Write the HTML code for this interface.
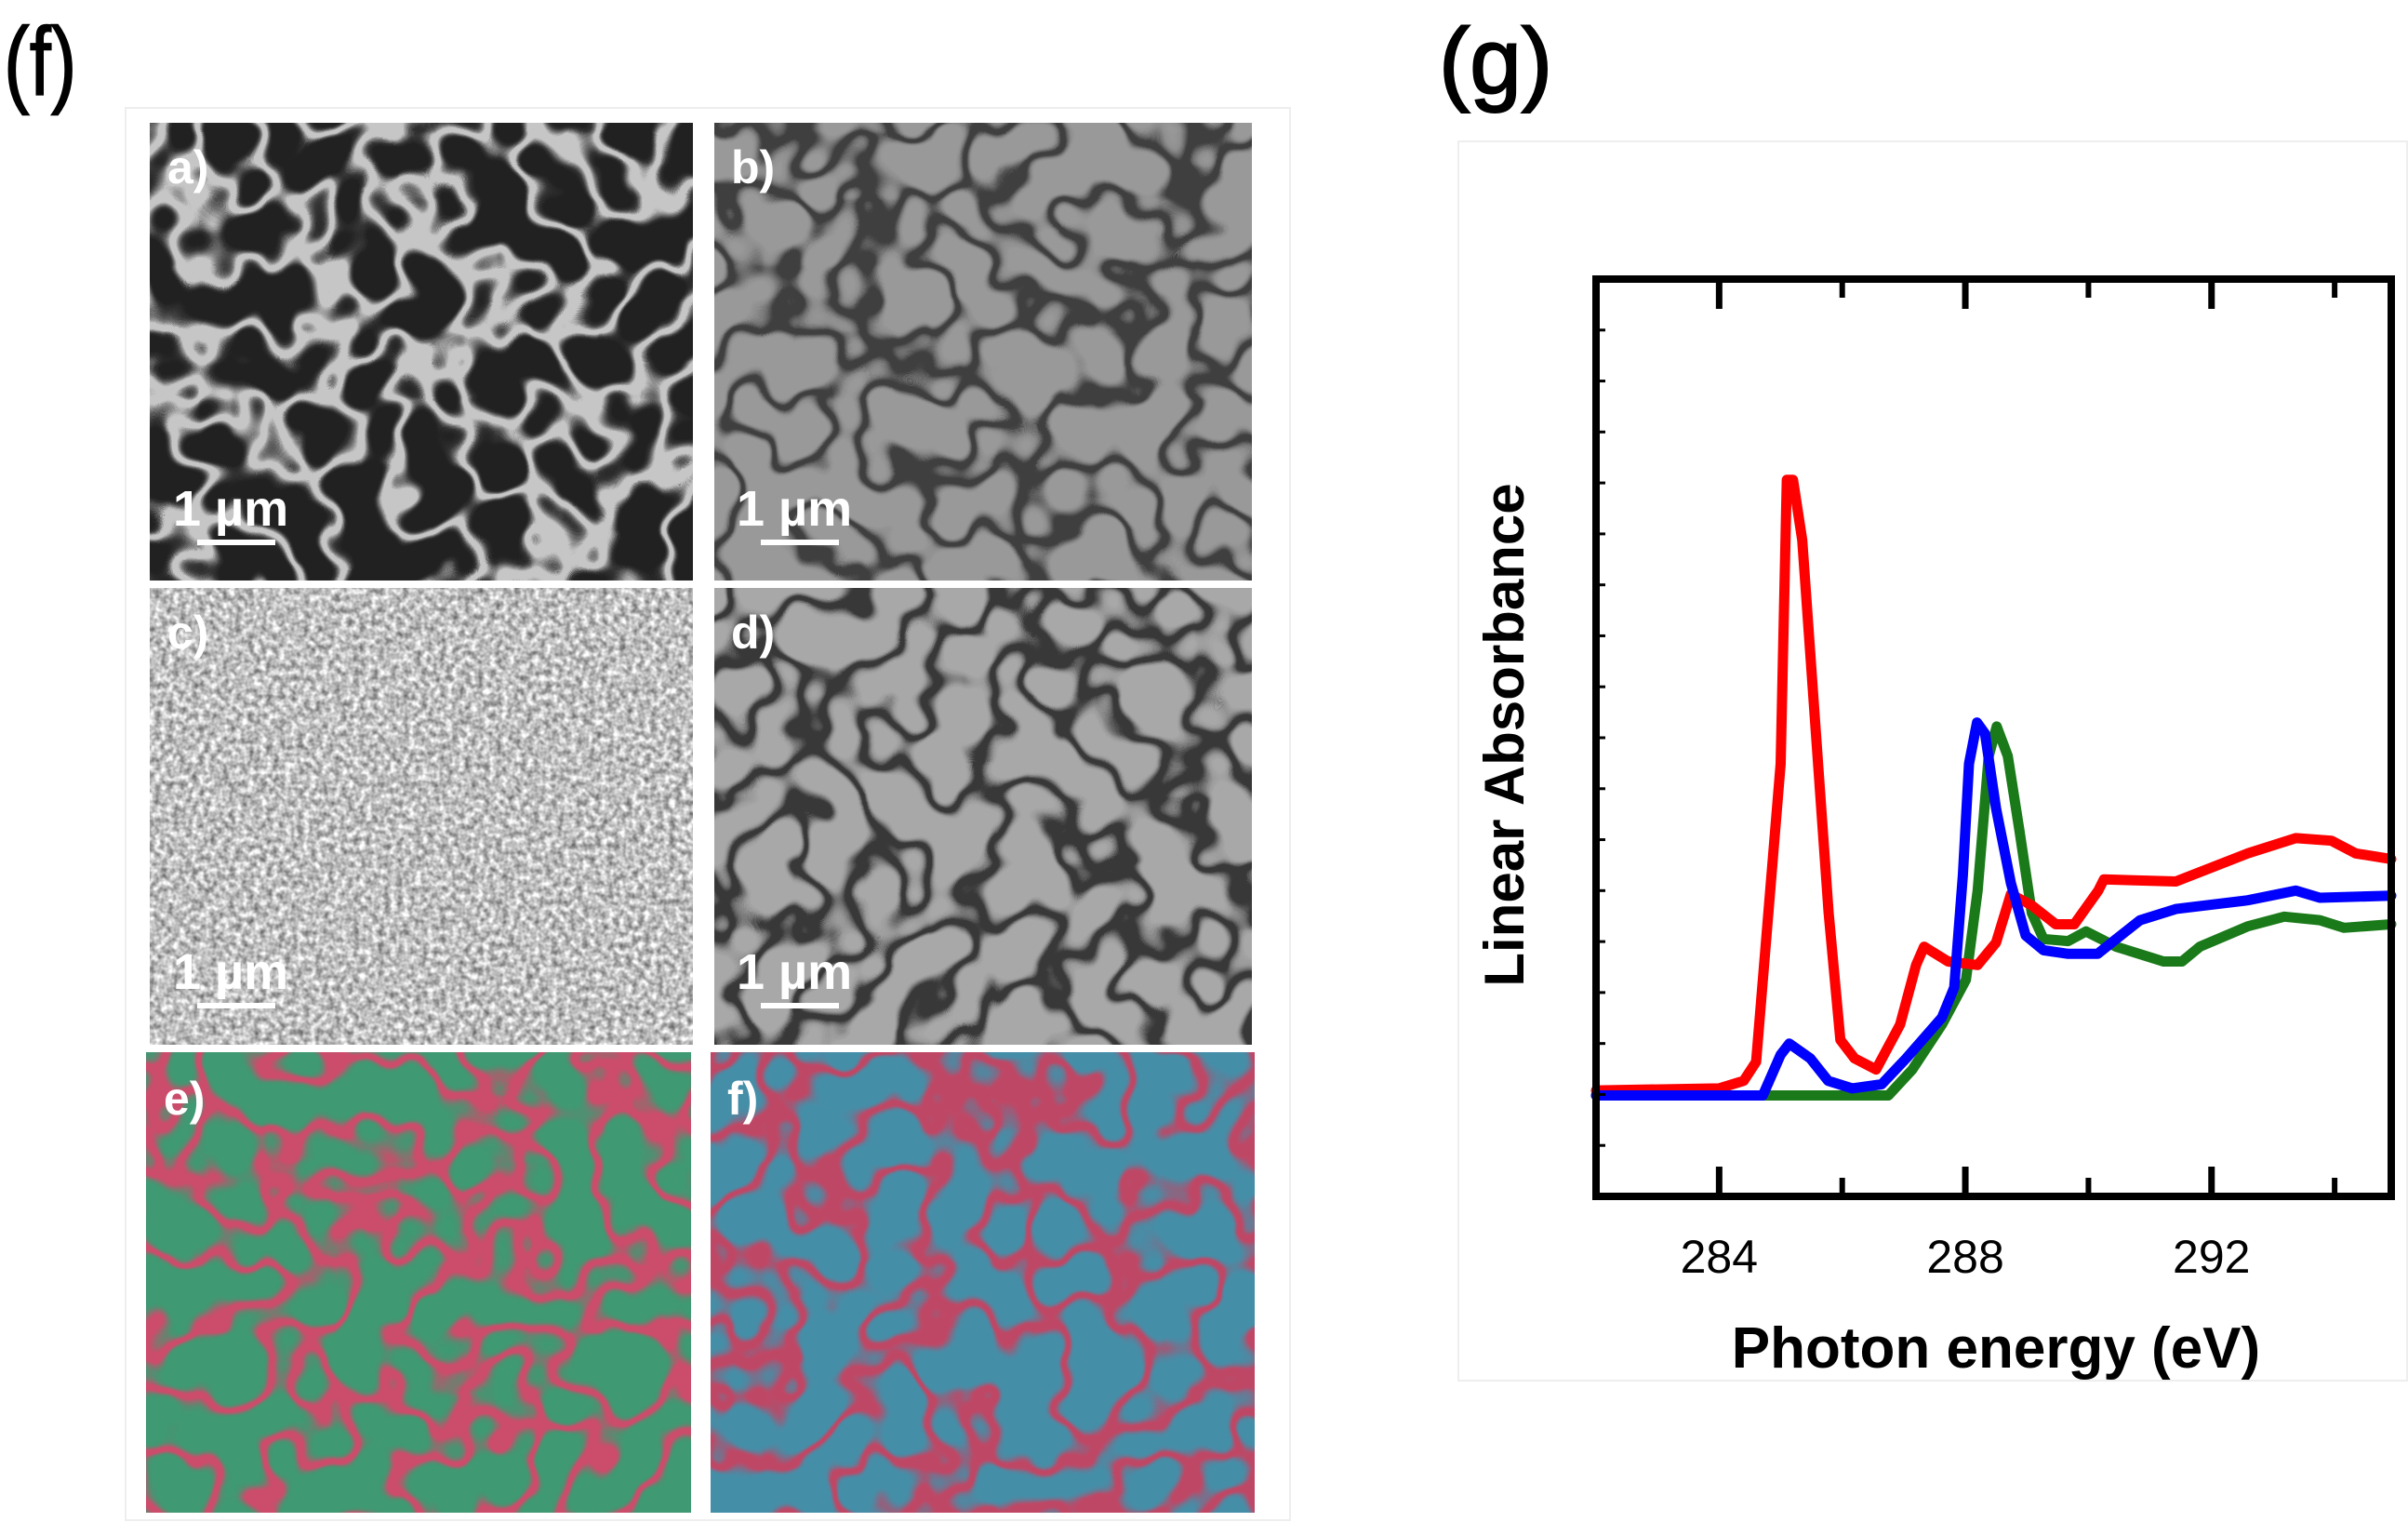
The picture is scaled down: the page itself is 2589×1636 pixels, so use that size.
<!DOCTYPE html>
<html><head><meta charset="utf-8"><style>
html,body{margin:0;padding:0;background:#fff;}
#root{position:relative;width:2589px;height:1636px;overflow:hidden;font-family:"Liberation Sans",sans-serif;}
</style></head><body>
<div id="root">
<svg id="fig" width="2589" height="1636" viewBox="0 0 2589 1636" xmlns="http://www.w3.org/2000/svg">
<defs>
  <filter id="fa" x="0" y="0" width="1" height="1" color-interpolation-filters="sRGB">
    <feTurbulence type="fractalNoise" baseFrequency="0.014" numOctaves="2" seed="7"/>
    <feColorMatrix type="matrix" values="1 0 0 0 0 1 0 0 0 0 1 0 0 0 0 0 0 0 0 1"/>
    <feComponentTransfer><feFuncR type="table" class="tf" data-bg="0.13" data-rd="0.78"/><feFuncG type="table" class="tf" data-bg="0.13" data-rd="0.78"/><feFuncB type="table" class="tf" data-bg="0.13" data-rd="0.78"/></feComponentTransfer>
  </filter>
  <filter id="fb" x="0" y="0" width="1" height="1" color-interpolation-filters="sRGB">
    <feTurbulence type="fractalNoise" baseFrequency="0.014" numOctaves="2" seed="7"/>
    <feColorMatrix type="matrix" values="1 0 0 0 0 1 0 0 0 0 1 0 0 0 0 0 0 0 0 1"/>
    <feComponentTransfer><feFuncR type="table" class="tf" data-bg="0.6" data-rd="0.25"/><feFuncG type="table" class="tf" data-bg="0.6" data-rd="0.25"/><feFuncB type="table" class="tf" data-bg="0.6" data-rd="0.25"/></feComponentTransfer>
  </filter>
  <filter id="fc" x="0" y="0" width="1" height="1" color-interpolation-filters="sRGB">
    <feTurbulence type="fractalNoise" baseFrequency="0.15" numOctaves="2" seed="3"/>
    <feColorMatrix type="matrix" values="0.9 0 0 0 0.3 0.9 0 0 0 0.3 0.9 0 0 0 0.3 0 0 0 0 1"/>
  </filter>
  <filter id="fd" x="0" y="0" width="1" height="1" color-interpolation-filters="sRGB">
    <feTurbulence type="fractalNoise" baseFrequency="0.014" numOctaves="2" seed="7"/>
    <feColorMatrix type="matrix" values="1 0 0 0 0 1 0 0 0 0 1 0 0 0 0 0 0 0 0 1"/>
    <feComponentTransfer><feFuncR type="table" class="tf" data-bg="0.66" data-rd="0.22"/><feFuncG type="table" class="tf" data-bg="0.66" data-rd="0.22"/><feFuncB type="table" class="tf" data-bg="0.66" data-rd="0.22"/></feComponentTransfer>
  </filter>
  <filter id="fe" x="0" y="0" width="1" height="1" color-interpolation-filters="sRGB">
    <feTurbulence type="fractalNoise" baseFrequency="0.014" numOctaves="2" seed="7"/>
    <feColorMatrix type="matrix" values="1 0 0 0 0 1 0 0 0 0 1 0 0 0 0 0 0 0 0 1"/>
    <feComponentTransfer><feFuncR type="table" class="tf" data-bg="0.25" data-rd="0.8"/><feFuncG type="table" class="tf" data-bg="0.6" data-rd="0.3"/><feFuncB type="table" class="tf" data-bg="0.45" data-rd="0.42"/></feComponentTransfer>
  </filter>
  <filter id="ff" x="0" y="0" width="1" height="1" color-interpolation-filters="sRGB">
    <feTurbulence type="fractalNoise" baseFrequency="0.014" numOctaves="2" seed="7"/>
    <feColorMatrix type="matrix" values="1 0 0 0 0 1 0 0 0 0 1 0 0 0 0 0 0 0 0 1"/>
    <feComponentTransfer><feFuncR type="table" class="tf" data-bg="0.27" data-rd="0.75"/><feFuncG type="table" class="tf" data-bg="0.56" data-rd="0.28"/><feFuncB type="table" class="tf" data-bg="0.66" data-rd="0.4"/></feComponentTransfer>
  </filter>
</defs>

<text x="0" y="102" font-family="Liberation Sans, sans-serif" font-size="104" stroke="#000" stroke-width="1.5" transform="translate(4,0) scale(0.8,1)">(f)</text>
<text x="1547" y="100" font-family="Liberation Sans, sans-serif" font-size="100" stroke="#000" stroke-width="2">(g)</text>

<rect x="135" y="116" width="1252" height="1518" fill="none" stroke="#eeeeee" stroke-width="2"/>
<rect x="1568" y="152" width="1020" height="1332" fill="none" stroke="#eeeeee" stroke-width="2"/>

<g>
<rect x="161" y="132" width="584" height="492" filter="url(#fa)"/>
<text x="180" y="197" fill="#fff" font-weight="bold" font-size="50">a)</text>
<text x="186" y="565" fill="#fff" font-weight="bold" font-size="54">1 µm</text>
<rect x="212" y="580" width="84" height="6" fill="#fff"/>
</g>
<g>
<rect x="768" y="132" width="578" height="492" filter="url(#fb)"/>
<text x="786" y="197" fill="#fff" font-weight="bold" font-size="50">b)</text>
<text x="792" y="565" fill="#fff" font-weight="bold" font-size="54">1 µm</text>
<rect x="818" y="580" width="84" height="6" fill="#fff"/>
</g>
<g>
<rect x="161" y="632" width="584" height="491" filter="url(#fc)"/>
<text x="180" y="697" fill="#fff" font-weight="bold" font-size="50">c)</text>
<text x="186" y="1063" fill="#fff" font-weight="bold" font-size="54">1 µm</text>
<rect x="212" y="1078" width="84" height="6" fill="#fff"/>
</g>
<g>
<rect x="768" y="632" width="578" height="491" filter="url(#fd)"/>
<text x="786" y="697" fill="#fff" font-weight="bold" font-size="50">d)</text>
<text x="792" y="1063" fill="#fff" font-weight="bold" font-size="54">1 µm</text>
<rect x="818" y="1078" width="84" height="6" fill="#fff"/>
</g>
<g>
<rect x="157" y="1131" width="586" height="495" filter="url(#fe)"/>
<text x="176" y="1198" fill="#fff" font-weight="bold" font-size="50">e)</text>
</g>
<g>
<rect x="764" y="1131" width="585" height="495" filter="url(#ff)"/>
<text x="782" y="1198" fill="#fff" font-weight="bold" font-size="50">f)</text>
</g>

<g id="chart"></g>
</svg>
</div>
<script>
// X-axis tick labels
const xTickLabels = [284, 288, 292];
const xMinorTicks = [286, 290, 294];
// Red series (photon energy eV, absorbance a.u.)
const redX = [282,284.0,284.4,284.6,285.0,285.1,285.2,285.35,285.78,285.97,286.2,286.55,286.94,287.2,287.33,287.72,288.2,288.5,288.74,289.08,289.47,289.77,290.16,290.25,291.42,292.59,293.37,293.95,294.34,294.92];
const redY = [2.08,2.12,2.27,2.64,8.49,14.06,14.06,12.88,5.56,3.07,2.71,2.49,3.37,4.54,4.90,4.61,4.54,4.98,5.93,5.71,5.34,5.34,6.00,6.22,6.18,6.73,7.03,6.98,6.73,6.62];
// Blue series
const blueX = [282,284.71,285.0,285.14,285.48,285.77,286.16,286.64,287.04,287.62,287.82,287.96,288.06,288.19,288.32,288.5,288.74,288.98,289.27,289.67,290.15,290.45,290.84,291.42,292.59,293.37,293.76,294.92];
const blueY = [1.98,1.98,2.78,3.00,2.71,2.27,2.12,2.20,2.71,3.51,4.10,6.30,8.49,9.30,9.08,7.61,6.15,5.12,4.83,4.76,4.76,5.05,5.42,5.64,5.81,6.00,5.86,5.90];
// Green series
const greenX = [282,286.75,287.14,287.62,288.01,288.2,288.38,288.51,288.69,288.88,289.08,289.27,289.67,289.96,290.45,291.22,291.52,291.81,292.59,293.18,293.76,294.15,294.92];
const greenY = [1.98,1.98,2.49,3.37,4.25,6.00,8.64,9.22,8.64,7.17,5.56,5.05,5.01,5.20,4.90,4.61,4.61,4.90,5.30,5.49,5.42,5.27,5.34];

// texture transfer tables: ridge band around the noise median
document.querySelectorAll('.tf').forEach(function(f){
  const bg=parseFloat(f.getAttribute('data-bg')), rd=parseFloat(f.getAttribute('data-rd'));
  const n=41, vals=[];
  for(let i=0;i<n;i++){
    const d=Math.abs(i-20);
    const w=d<=1?1:(d===2?0.5:(d===3?0.12:0));
    vals.push((bg+(rd-bg)*w).toFixed(3));
  }
  f.setAttribute('tableValues', vals.join(' '));
});

const L=1716, R=2571, T=300, B=1286;
const X0=282, X1=294.92, Y0=0, Y1=18;
function sx(v){return L+(v-X0)/(X1-X0)*(R-L);}
function sy(v){return B-(v-Y0)/(Y1-Y0)*(B-T);}
const NS='http://www.w3.org/2000/svg';
const g=document.getElementById('chart');
function mk(tag,attrs){const e=document.createElementNS(NS,tag);for(const k in attrs)e.setAttribute(k,attrs[k]);g.appendChild(e);return e;}

function series(xs,ys,color,name){
  let d='';
  for(let i=0;i<xs.length;i++){d+=(i?'L':'M')+sx(xs[i]).toFixed(1)+','+sy(ys[i]).toFixed(1);}
  const p=mk('path',{d:d,fill:'none',stroke:color,'stroke-width':11,'stroke-linejoin':'round','stroke-linecap':'round'});
  
  
}
series(greenX,greenY,'#1a7a1a','series-green');
series(redX,redY,'#ff0000','series-red');
series(blueX,blueY,'#0000ff','series-blue');

const fr=mk('rect',{x:L,y:T,width:R-L,height:B-T,fill:'none',stroke:'#000','stroke-width':8});



xTickLabels.forEach(v=>{
  const x=sx(v);
  const t1=mk('line',{x1:x,y1:B,x2:x,y2:B-32,stroke:'#000','stroke-width':7});
  
  
  const t2=mk('line',{x1:x,y1:T,x2:x,y2:T+32,stroke:'#000','stroke-width':7});
  
  
  const lb=mk('text',{x:x,y:1368,'text-anchor':'middle','font-size':50,'font-family':'Liberation Sans, sans-serif'});
  lb.textContent=v;
  
  
});
xMinorTicks.forEach(v=>{
  const x=sx(v);
  const t1=mk('line',{x1:x,y1:B,x2:x,y2:B-20,stroke:'#000','stroke-width':6});
  
  
  const t2=mk('line',{x1:x,y1:T,x2:x,y2:T+20,stroke:'#000','stroke-width':6});
  
  
});
for(let v=1;v<18;v++){
  const y=sy(v);
  const t=mk('line',{x1:L,y1:y,x2:L+10,y2:y,stroke:'#000','stroke-width':3});
  
  
}
const xt=mk('text',{x:2146,y:1470,'text-anchor':'middle','font-size':62,'font-weight':'bold','font-family':'Liberation Sans, sans-serif'});
xt.textContent='Photon energy (eV)';


const yt=mk('text',{x:0,y:0,'text-anchor':'middle','font-size':60,'font-weight':'bold','font-family':'Liberation Sans, sans-serif',transform:'translate(1638,790) rotate(-90)'});
yt.textContent='Linear Absorbance';


</script>
</body></html>
